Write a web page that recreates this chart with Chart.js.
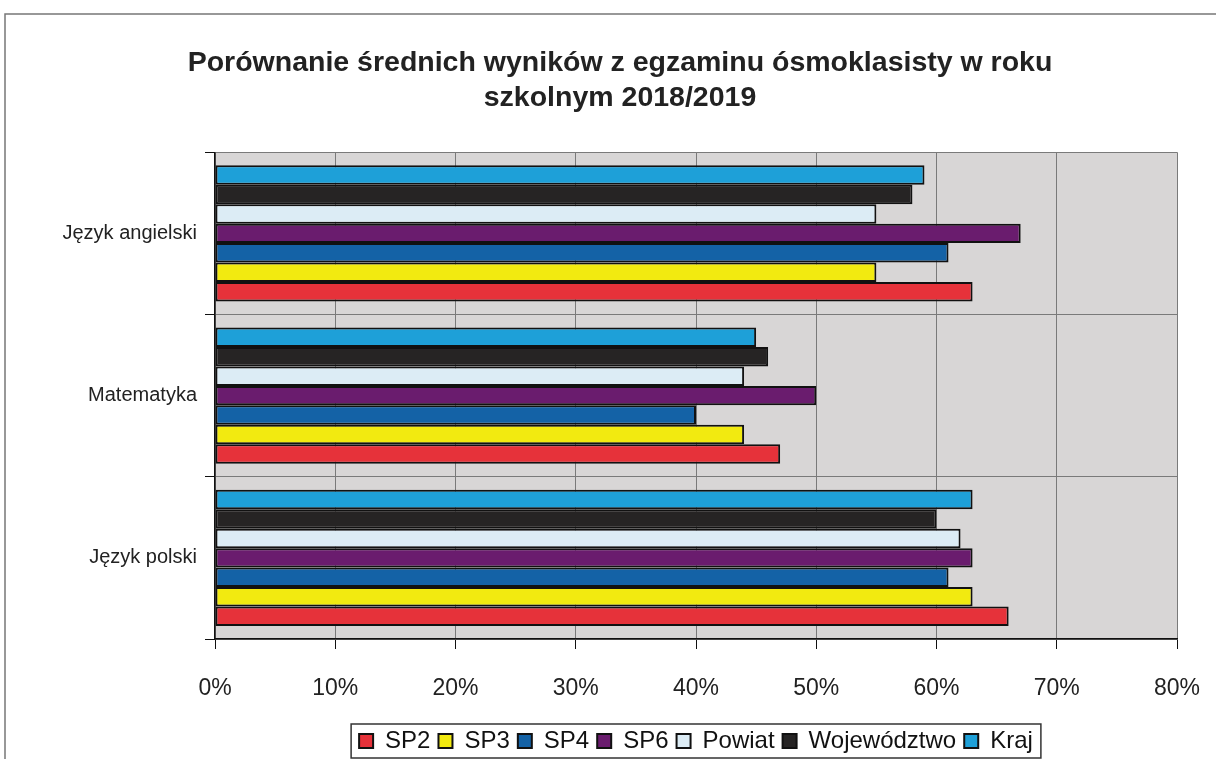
<!DOCTYPE html>
<html>
<head>
<meta charset="utf-8">
<script src="https://cdn.jsdelivr.net/npm/chart.js@4"></script>
<style>
  html, body { margin: 0; padding: 0; background: #fff; }
  #wrap { width: 1216px; height: 759px; }
</style>
</head>
<body>
<div id="wrap"><canvas id="myChart" width="1216" height="759"></canvas></div>
<script>
// categories, top to bottom
const subjects = ["Język angielski", "Matematyka", "Język polski"];

// average results (%) per school / region
const sp2 = [63, 47, 66];
const sp3 = [55, 44, 63];
const sp4 = [61, 40, 61];
const sp6 = [67, 50, 63];
const powiat = [55, 44, 62];
const wojewodztwo = [58, 46, 60];
const kraj = [59, 45, 63];

const xTicks = [0, 10, 20, 30, 40, 50, 60, 70, 80];

const font = "'Liberation Sans', Arial, sans-serif";

// plot background, page frame and legend box
const decoPlugin = {
  id: "deco",
  afterLayout(chart) {
    // centre the legend under the plot and nudge it down a bit
    const lg = chart.legend;
    const area = chart.chartArea;
    const mid = (area.left + area.right) / 2;
    const dx = mid - (lg.left + lg.right) / 2;
    lg.left += dx;
    lg.right += dx;
    lg.top += 6;
    lg.bottom += 6;
  },
  beforeDraw(chart) {
    const ctx = chart.ctx;
    const a = chart.chartArea;
    ctx.save();
    ctx.fillStyle = "#d8d6d6";
    ctx.fillRect(a.left, a.top, a.right - a.left, a.bottom - a.top);
    // frame of the scanned page
    ctx.strokeStyle = "#777";
    ctx.lineWidth = 1.5;
    ctx.beginPath();
    ctx.moveTo(5, 760);
    ctx.lineTo(5, 14);
    ctx.lineTo(1216, 14);
    ctx.stroke();
    ctx.restore();
  },
  afterDraw(chart) {
    const boxes = chart.legend.legendHitBoxes;
    if (!boxes || !boxes.length) return;
    let l = Infinity, r = -Infinity, t = Infinity, b = -Infinity;
    boxes.forEach((h) => {
      l = Math.min(l, h.left);
      r = Math.max(r, h.left + h.width);
      t = Math.min(t, h.top);
      b = Math.max(b, h.top + h.height);
    });
    const ctx = chart.ctx;
    ctx.save();
    ctx.strokeStyle = "#333";
    ctx.lineWidth = 1.5;
    ctx.strokeRect(l - 8, t - 5, r - l + 16, b - t + 10);
    ctx.restore();
  },
};

const ctx = document.getElementById("myChart").getContext("2d");

new Chart(ctx, {
  type: "bar",
  data: {
    labels: subjects,
    // listed top to bottom inside each group; legend is reversed
    datasets: [
      { label: "Kraj", data: kraj, backgroundColor: "#1ea0d8" },
      { label: "Województwo", data: wojewodztwo, backgroundColor: "#262424" },
      { label: "Powiat", data: powiat, backgroundColor: "#dcecf5" },
      { label: "SP6", data: sp6, backgroundColor: "#6a1c6e" },
      { label: "SP4", data: sp4, backgroundColor: "#1462a6" },
      { label: "SP3", data: sp3, backgroundColor: "#f2ea10" },
      { label: "SP2", data: sp2, backgroundColor: "#e6323a" },
    ].map((d) => ({
      ...d,
      borderColor: "#111",
      borderWidth: 2,
      borderSkipped: false,
      categoryPercentage: 0.84,
      barPercentage: 1,
    })),
  },
  options: {
    indexAxis: "y",
    responsive: false,
    animation: false,
    layout: { padding: { left: 63, right: 39, top: 45, bottom: 2 } },
    plugins: {
      title: {
        display: true,
        text: [
          "Porównanie średnich wyników z egzaminu ósmoklasisty w roku",
          "szkolnym 2018/2019",
        ],
        color: "#222",
        font: { family: font, size: 28.5, weight: "bold", lineHeight: 1.25 },
        padding: { top: 0, bottom: 36 },
      },
      legend: {
        position: "bottom",
        reverse: true,
        labels: {
          color: "#111",
          font: { family: font, size: 24 },
          boxWidth: 14,
          boxHeight: 14,
          padding: 8,
        },
      },
      tooltip: { enabled: false },
    },
    scales: {
      x: {
        min: 0,
        max: 80,
        afterBuildTicks: (scale) => {
          scale.ticks = xTicks.map((v) => ({ value: v }));
        },
        ticks: {
          color: "#222",
          font: { family: font, size: 23 },
          padding: 26,
          maxRotation: 0,
          callback: (v) => v + "%",
        },
        grid: {
          color: "#7a7a7a",
          lineWidth: 1,
          tickLength: 10,
          tickColor: "#111",
        },
        border: { color: "#111", width: 1.5 },
        afterFit: (scale) => {
          scale.height = 76;
          scale.paddingLeft = 0;
          scale.paddingRight = 0;
        },
      },
      y: {
        ticks: {
          color: "#222",
          font: { family: font, size: 20 },
          padding: 8,
        },
        grid: {
          color: "#7a7a7a",
          lineWidth: 1,
          tickLength: 10,
          tickColor: "#111",
          offset: true,
        },
        border: { color: "#111", width: 1.5 },
        afterFit: (scale) => {
          scale.width = 152;
          scale.paddingTop = 0;
          scale.paddingBottom = 0;
        },
      },
    },
  },
  plugins: [decoPlugin],
});
</script>
</body>
</html>
